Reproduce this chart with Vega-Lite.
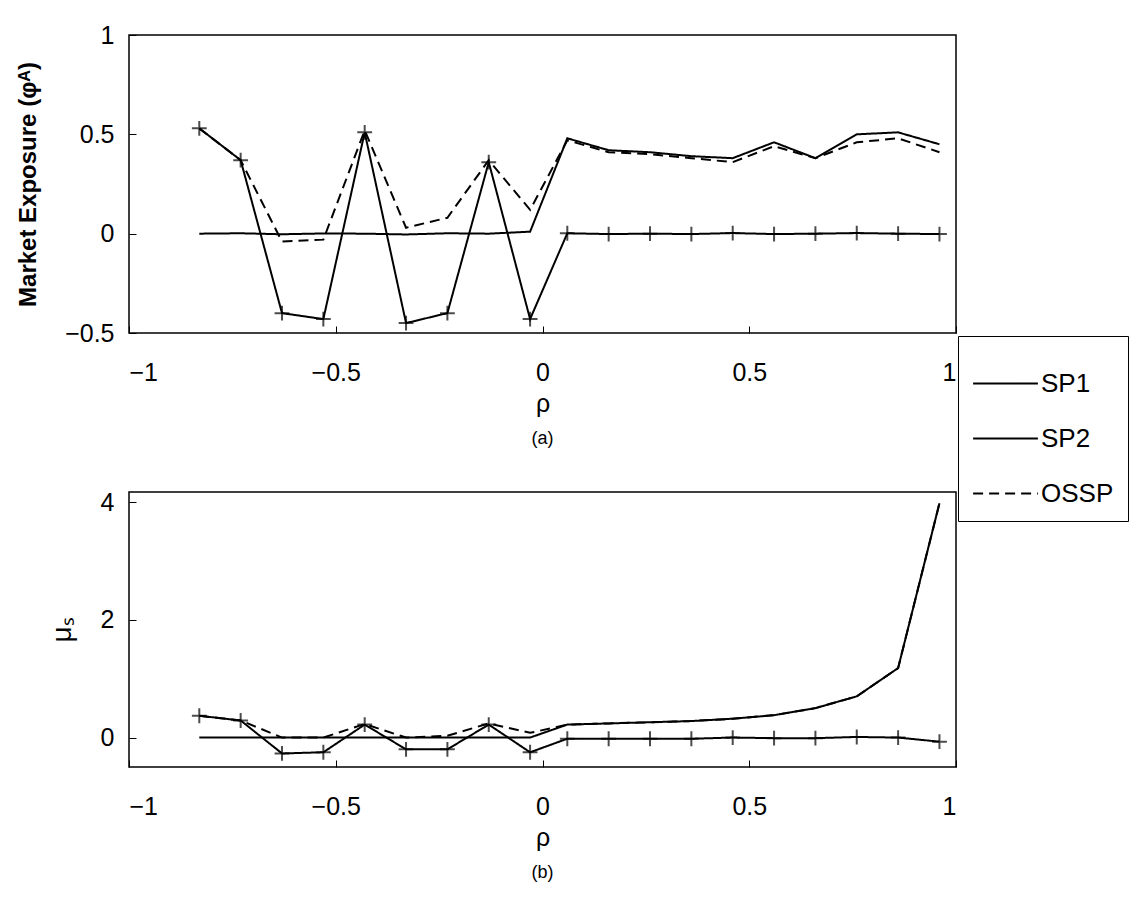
{
  "$schema": "https://vega.github.io/schema/vega-lite/v6.json",
  "background": "white",
  "padding": {"left": 15, "top": 22, "right": 0, "bottom": 5},
  "spacing": 40,
  "datasets": {
    "a": [
      {"rho": -0.83, "SP1": 0, "SP2": 0.53, "OSSP": 0.53},
      {"rho": -0.73, "SP1": 0.002, "SP2": 0.37, "OSSP": 0.37},
      {"rho": -0.63, "SP1": -0.003, "SP2": -0.4, "OSSP": -0.04},
      {"rho": -0.53, "SP1": 0.001, "SP2": -0.43, "OSSP": -0.03},
      {"rho": -0.43, "SP1": 0, "SP2": 0.51, "OSSP": 0.52},
      {"rho": -0.33, "SP1": -0.004, "SP2": -0.45, "OSSP": 0.03},
      {"rho": -0.23, "SP1": 0.002, "SP2": -0.4, "OSSP": 0.08},
      {"rho": -0.13, "SP1": 0, "SP2": 0.36, "OSSP": 0.37},
      {"rho": -0.03, "SP1": 0.01, "SP2": -0.43, "OSSP": 0.12},
      {"rho": 0.06, "SP1": 0.48, "SP2": 0.002, "OSSP": 0.47},
      {"rho": 0.16, "SP1": 0.42, "SP2": -0.002, "OSSP": 0.41},
      {"rho": 0.26, "SP1": 0.41, "SP2": 0, "OSSP": 0.4},
      {"rho": 0.36, "SP1": 0.39, "SP2": -0.002, "OSSP": 0.38},
      {"rho": 0.46, "SP1": 0.38, "SP2": 0.003, "OSSP": 0.36},
      {"rho": 0.56, "SP1": 0.46, "SP2": -0.002, "OSSP": 0.44},
      {"rho": 0.66, "SP1": 0.38, "SP2": 0, "OSSP": 0.38},
      {"rho": 0.76, "SP1": 0.5, "SP2": 0.003, "OSSP": 0.46},
      {"rho": 0.86, "SP1": 0.51, "SP2": 0, "OSSP": 0.48},
      {"rho": 0.96, "SP1": 0.45, "SP2": -0.002, "OSSP": 0.41}
    ],
    "b": [
      {"rho": -0.83, "SP1": 0, "SP2": 0.37, "OSSP": 0.37},
      {"rho": -0.73, "SP1": 0, "SP2": 0.29, "OSSP": 0.29},
      {"rho": -0.63, "SP1": 0, "SP2": -0.27, "OSSP": 0.0},
      {"rho": -0.53, "SP1": 0, "SP2": -0.25, "OSSP": 0.0},
      {"rho": -0.43, "SP1": 0, "SP2": 0.22, "OSSP": 0.23},
      {"rho": -0.33, "SP1": 0, "SP2": -0.2, "OSSP": 0.0},
      {"rho": -0.23, "SP1": 0, "SP2": -0.2, "OSSP": 0.03},
      {"rho": -0.13, "SP1": 0, "SP2": 0.22, "OSSP": 0.24},
      {"rho": -0.03, "SP1": 0, "SP2": -0.25, "OSSP": 0.08},
      {"rho": 0.06, "SP1": 0.22, "SP2": -0.02, "OSSP": 0.22},
      {"rho": 0.16, "SP1": 0.24, "SP2": -0.02, "OSSP": 0.24},
      {"rho": 0.26, "SP1": 0.26, "SP2": -0.02, "OSSP": 0.26},
      {"rho": 0.36, "SP1": 0.28, "SP2": -0.02, "OSSP": 0.28},
      {"rho": 0.46, "SP1": 0.32, "SP2": 0, "OSSP": 0.32},
      {"rho": 0.56, "SP1": 0.38, "SP2": -0.01, "OSSP": 0.38},
      {"rho": 0.66, "SP1": 0.5, "SP2": -0.01, "OSSP": 0.5},
      {"rho": 0.76, "SP1": 0.7, "SP2": 0.01, "OSSP": 0.7},
      {"rho": 0.86, "SP1": 1.18, "SP2": 0, "OSSP": 1.18},
      {"rho": 0.96, "SP1": 3.98, "SP2": -0.07, "OSSP": 3.98}
    ]
  },
  "vconcat": [
    {
      "width": 827,
      "height": 298,
      "data": {"name": "a"},
      "transform": [{"fold": ["SP1", "SP2", "OSSP"], "as": ["series", "value"]}],
      "title": {"text": "(a)", "orient": "bottom", "fontSize": 18, "fontWeight": "normal", "font": "Liberation Sans", "offset": 14},
      "encoding": {
        "x": {"field": "rho", "type": "quantitative", "scale": {"domain": [-1, 1], "nice": false},
          "axis": {"title": "ρ", "values": [-1, -0.5, 0, 0.5, 1], "format": "~g"}},
        "y": {"field": "value", "type": "quantitative", "scale": {"domain": [-0.5, 1], "nice": false},
          "axis": {"title": "Market Exposure (φᴬ)", "titleFontWeight": "bold", "titleFontSize": 24, "values": [-0.5, 0, 0.5, 1], "format": "~g"}}
      },
      "layer": [
        {
          "mark": {"type": "line", "color": "black", "strokeWidth": 2},
          "encoding": {
            "strokeDash": {"field": "series", "type": "nominal",
              "scale": {"domain": ["SP1", "SP2", "OSSP"], "range": [[1, 0], [1, 0], [10, 6]]},
              "legend": {"orient": "none", "legendX": 829, "legendY": 301, "title": null,
                "symbolType": "stroke", "symbolSize": 4200, "symbolStrokeWidth": 2, "symbolStrokeColor": "black",
                "labelFontSize": 26, "labelFont": "Liberation Sans", "labelColor": "black", "rowPadding": 8,
                "strokeColor": "black", "padding": 14, "fillColor": "white", "labelOffset": 2, "labelLimit": 300}}
          }
        },
        {
          "transform": [{"filter": "datum.series == 'SP2'"}],
          "mark": {"type": "point", "shape": "M-1,0H1M0,-1V1", "size": 220, "color": "black", "strokeWidth": 2, "filled": false}
        }
      ]
    },
    {
      "width": 827,
      "height": 275,
      "data": {"name": "b"},
      "transform": [{"fold": ["SP1", "SP2", "OSSP"], "as": ["series", "value"]}],
      "title": {"text": "(b)", "orient": "bottom", "fontSize": 18, "fontWeight": "normal", "font": "Liberation Sans", "offset": 14},
      "encoding": {
        "x": {"field": "rho", "type": "quantitative", "scale": {"domain": [-1, 1], "nice": false},
          "axis": {"title": "ρ", "values": [-1, -0.5, 0, 0.5, 1], "format": "~g"}},
        "y": {"field": "value", "type": "quantitative", "scale": {"domain": [-0.5, 4.17], "nice": false},
          "axis": {"title": "μₛ", "titleFontSize": 28, "values": [0, 2, 4]}}
      },
      "layer": [
        {
          "mark": {"type": "line", "color": "black", "strokeWidth": 2},
          "encoding": {
            "strokeDash": {"field": "series", "type": "nominal",
              "scale": {"domain": ["SP1", "SP2", "OSSP"], "range": [[1, 0], [1, 0], [10, 6]]}, "legend": null}
          }
        },
        {
          "transform": [{"filter": "datum.series == 'SP2'"}],
          "mark": {"type": "point", "shape": "M-1,0H1M0,-1V1", "size": 220, "color": "black", "strokeWidth": 2, "filled": false}
        }
      ]
    }
  ],
  "config": {
    "font": "Liberation Sans",
    "view": {"stroke": "black", "strokeWidth": 1.5},
    "axis": {
      "grid": false, "domain": false,
      "tickColor": "black", "tickSize": -7,
      "labelFontSize": 25, "labelColor": "black", "labelFont": "Liberation Sans",
      "titleFontSize": 25, "titleFontWeight": "normal", "titleColor": "black", "titleFont": "Liberation Sans"
    },
    "axisX": {"labelPadding": 34, "titlePadding": 6},
    "axisY": {"labelPadding": 22, "titlePadding": 24}
  }
}
